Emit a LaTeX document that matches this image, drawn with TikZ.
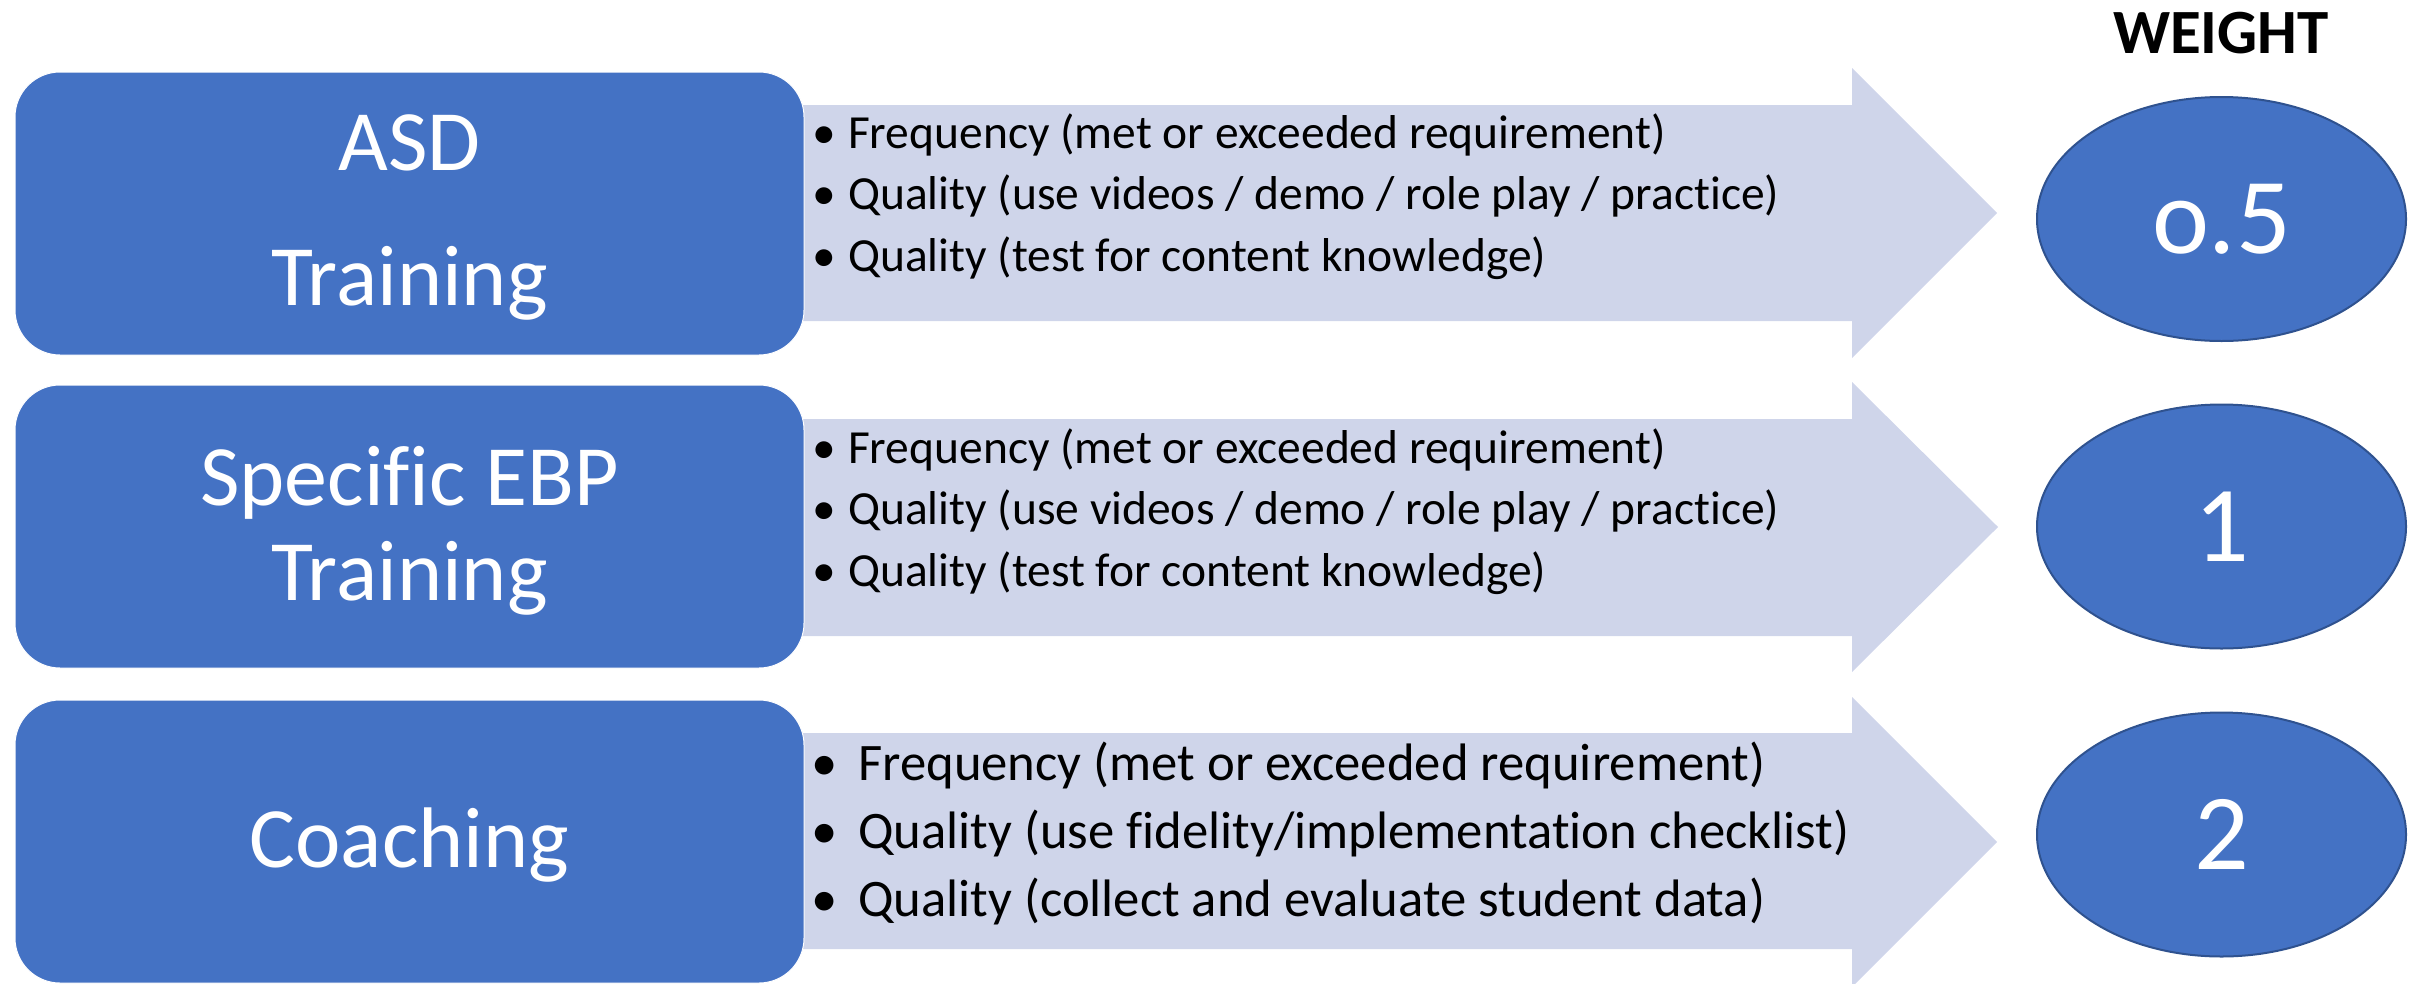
\documentclass[tikz,border=0pt]{standalone}
\usepackage{fontspec}
\setmainfont{Carlito}[Ligatures=CommonOff]
\usetikzlibrary{shapes.geometric}
\definecolor{boxblue}{HTML}{4472C4}
\definecolor{ellline}{HTML}{2F528F}
\definecolor{arrowfill}{HTML}{CFD5EA}
\tikzset{
  catbox/.style={rectangle, fill=boxblue, draw=white, line width=1pt, rounded corners=45pt,
    minimum width=789pt, minimum height=283pt, inner sep=0pt},
  cattext/.style={text=white, font=\fontsize{86}{86}\selectfont, anchor=base, inner sep=0pt},
  itemA/.style={anchor=base west, inner sep=0pt, font=\fontsize{47.5}{50}\selectfont},
  itemB/.style={anchor=base west, inner sep=0pt, font=\fontsize{52.7}{55}\selectfont},
  weightnode/.style={ellipse, fill=boxblue, draw=ellline, line width=2pt,
    minimum width=369pt, minimum height=244pt, text=white,
    font=\fontsize{108}{108}\selectfont, inner sep=0pt},
  arrowshape/.style={fill=arrowfill},
  heading/.style={anchor=base, inner sep=0pt, font=\fontsize{63}{63}\selectfont\bfseries}
}
\newcommand{\bulA}{\makebox[36pt][l]{•}}
\newcommand{\bulB}{\makebox[47pt][l]{•}}
\begin{document}
\begin{tikzpicture}[x=1pt,y=-1pt]
\useasboundingbox (0,0) rectangle (2425,983);
% arrows
\fill[arrowshape] (800,105) -- (1852,105) -- (1852,68) -- (1997,213) -- (1852,358) -- (1852,321) -- (800,321) -- cycle;
\fill[arrowshape] (800,419) -- (1852,419) -- (1852,382) -- (1998,527) -- (1852,672) -- (1852,636) -- (800,636) -- cycle;
\fill[arrowshape] (800,733) -- (1852,733) -- (1852,697) -- (1997,842) -- (1852,987) -- (1852,949) -- (800,949) -- cycle;
% category boxes
\node[catbox] (b1) at (409.5,213.5) {};
\node[catbox] (b2) at (409.5,526.5) {};
\node[catbox] (b3) at (409.5,841.5) {};
\node[cattext] (b1a) at (409.5,170) {ASD};
\node[cattext] (b1b) at (409.5,305) {Training};
\node[cattext] (b2a) at (409.5,505) {Specific EBP};
\node[cattext] (b2b) at (409.5,600) {Training};
\node[cattext] (b3a) at (409.5,867) {Coaching};
% items
\node[itemA] (r1a) at (812,148) {\bulA Frequency (met or exceeded requirement)};
\node[itemA] (r1b) at (812,209.5) {\bulA Quality (use videos / demo / role play / practice)};
\node[itemA] (r1c) at (812,271) {\bulA Quality (test for content knowledge)};
\node[itemA] (r2a) at (812,463) {\bulA Frequency (met or exceeded requirement)};
\node[itemA] (r2b) at (812,524.5) {\bulA Quality (use videos / demo / role play / practice)};
\node[itemA] (r2c) at (812,586) {\bulA Quality (test for content knowledge)};
\node[itemB] (r3a) at (811,780) {\bulB Frequency (met or exceeded requirement)};
\node[itemB] (r3b) at (811,848) {\bulB Quality (use fidelity/implementation checklist)};
\node[itemB] (r3c) at (811,916) {\bulB Quality (collect and evaluate student data)};
% weights
\node[heading] (wt) at (2221,53) {WEIGHT};
\node[weightnode] (e1) at (2221.5,219) {o.5};
\node[weightnode] (e2) at (2221.5,526.5) {1};
\node[weightnode] (e3) at (2221.5,834.5) {2};
\end{tikzpicture}
\end{document}
